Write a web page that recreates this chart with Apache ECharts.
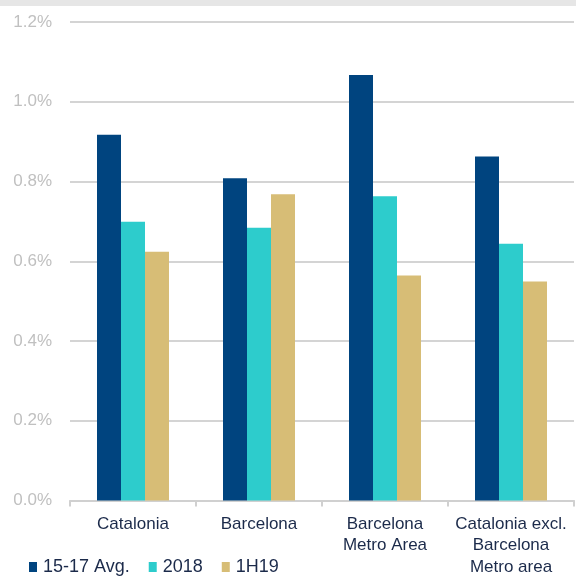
<!DOCTYPE html>
<html>
<head>
<meta charset="utf-8">
<script src="https://cdn.jsdelivr.net/npm/echarts@6/dist/echarts.min.js"></script>
<style>
  html, body { margin: 0; padding: 0; background: #ffffff; }
  #topband { position: absolute; left: 0; top: 0; width: 576px; height: 6px; background: #e6e6e6; }
  #chart { position: absolute; left: 0; top: 0; width: 576px; height: 578px; }
</style>
</head>
<body>
<div id="chart"></div>
<div id="topband"></div>
<script>
// Regions on the category axis
const regions = ['Catalonia', 'Barcelona', 'Barcelona\nMetro Area', 'Catalonia excl.\nBarcelona\nMetro area'];
// Series values, in percent
const avg1517 = [0.917, 0.808, 1.067, 0.863];
const y2018   = [0.699, 0.684, 0.763, 0.644];
const h119    = [0.624, 0.768, 0.564, 0.549];
// Y-axis ticks
const yTicks = [0.0, 0.2, 0.4, 0.6, 0.8, 1.0, 1.2];

const font = 'Liberation Sans, Arial, sans-serif';
const chart = echarts.init(document.getElementById('chart'), null, { renderer: 'canvas' });

function bar(name, data, color) {
  return {
    name: name,
    type: 'bar',
    data: data,
    barWidth: 24,
    barGap: '0%',
    itemStyle: { color: color },
    emphasis: { disabled: true }
  };
}

chart.setOption({
  animation: false,
  textStyle: { fontFamily: font },
  grid: { left: 70, right: 2, top: 22, bottom: 75, containLabel: false },
  legend: {
    left: 29,
    top: 558,
    padding: 0,
    itemWidth: 8,
    itemHeight: 10,
    itemGap: 19,
    icon: 'rect',
    textStyle: { fontFamily: font, fontSize: 18, color: '#1b2a4a', padding: [0, 0, 0, 1] },
    data: ['15-17 Avg.', '2018', '1H19']
  },
  xAxis: {
    type: 'category',
    data: regions,
    axisLine: { show: true, lineStyle: { color: '#d0d0d0', width: 2 } },
    axisTick: { show: true, length: 6, lineStyle: { color: '#d0d0d0', width: 2 } },
    axisLabel: { fontFamily: font, fontSize: 17, color: '#1b2a4a', lineHeight: 21.5, margin: 13, interval: 0 }
  },
  yAxis: {
    type: 'value',
    min: yTicks[0],
    max: yTicks[yTicks.length - 1],
    interval: 0.2,
    axisLine: { show: false },
    axisTick: { show: false },
    splitLine: { lineStyle: { color: '#d4d4d4', width: 2 } },
    axisLabel: {
      fontFamily: font, fontSize: 17, color: '#c0c0c0', margin: 18,
      formatter: v => v.toFixed(1) + '%'
    }
  },
  series: [
    bar('15-17 Avg.', avg1517, '#00447f'),
    bar('2018', y2018, '#2dcccc'),
    bar('1H19', h119, '#d7bd76')
  ]
});
</script>
</body>
</html>
